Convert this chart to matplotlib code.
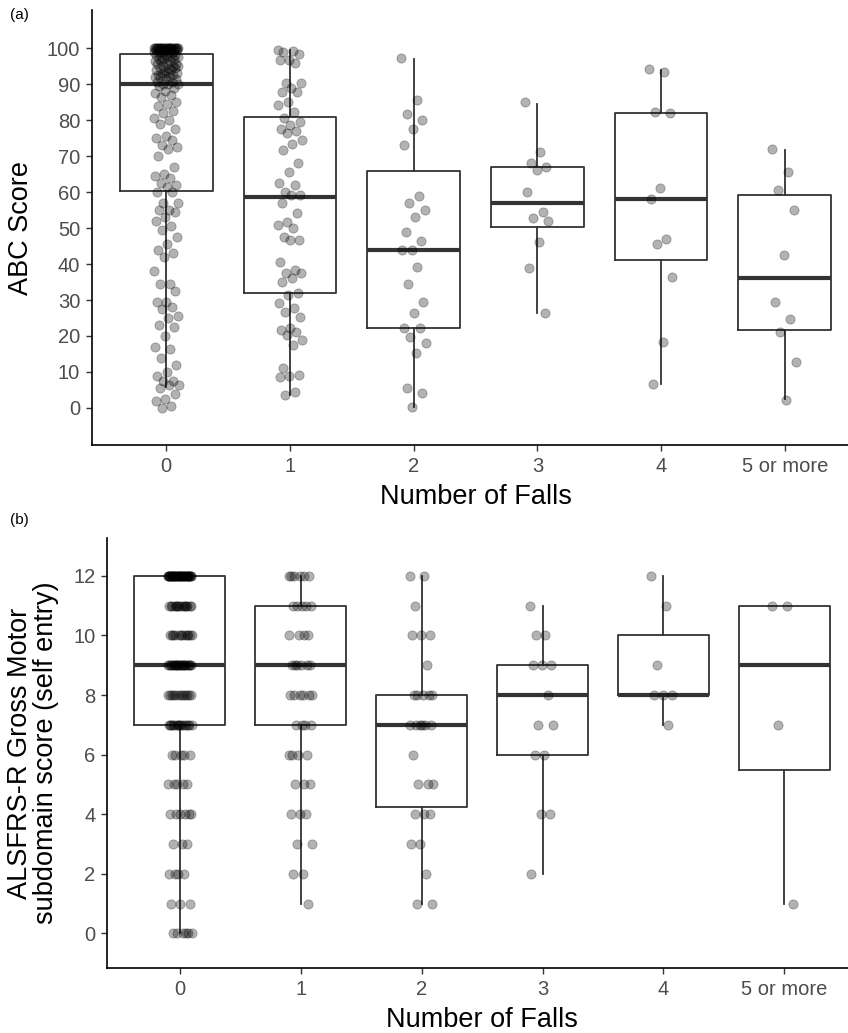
import numpy as np
import matplotlib
matplotlib.use("Agg")
import matplotlib.pyplot as plt

plt.rcParams['font.family'] = ['Liberation Sans', 'DejaVu Sans']

groups = ["0", "1", "2", "3", "4", "5 or more"]

# (a) ABC score
abc_0 = [100, 100, 100, 100, 100, 100, 100, 100, 100, 100, 100, 100, 100, 100,
         100, 100, 100, 100, 100, 100, 100, 100, 100, 100,
         99.4, 99.4, 99.4, 99.4, 99.4, 99.4, 99.4, 98.8, 98.8, 98.8, 98.8, 98.8, 98.8,
         98.1, 98.1, 98.1, 97.5, 97.5, 97.5, 97.5, 96.9, 96.9, 96.9, 96.3, 96.3, 96.3,
         95.6, 95.6, 95.6, 95.0, 95.0, 95.0, 94.4, 94.4, 94.4, 93.8, 93.8, 93.8,
         93.1, 93.1, 93.1, 92.5, 92.5, 92.5, 91.9, 91.9, 91.9, 91.3, 91.3, 90.6, 90.6,
         90.0, 90.0, 90.0,
         89.4, 88.8, 88.1, 87.5, 86.9, 86.3, 85.0, 84.4, 83.8, 82.5, 81.9, 80.6,
         80.0, 78.8, 77.5, 75.6, 75.0, 74.4, 73.1, 72.5, 71.9, 70.0, 66.9, 65.0,
         64.4, 63.8, 62.5, 61.9, 61.3, 60.0, 60.0, 56.9, 56.9, 55.0, 55.0, 54.4,
         53.1, 51.9, 50.6, 49.4, 47.5, 45.6, 43.8, 43.1, 41.9, 38.1, 34.4, 34.4,
         32.5, 29.4, 29.4, 28.1, 27.5, 25.6, 25.0, 23.1, 22.5, 20.0, 16.9, 16.3,
         13.8, 11.9, 10.0, 8.8, 7.5, 7.5, 6.3, 6.3, 5.6, 3.8, 2.5, 1.9, 0.6, 0.0]
abc_1 = [99.5, 99.2, 98.8, 98.5, 96.7, 96.7, 95.8, 90.2, 90.2, 88.8, 87.9, 87.9,
         85.1, 84.2, 82.3, 80.5, 79.5, 78.6, 77.6, 76.9, 76.3, 74.4, 73.5, 71.7,
         68.0, 65.7, 62.4, 61.9, 60.1, 59.2, 59.2, 56.9, 54.1, 51.8, 50.9, 49.9,
         47.6, 46.7, 46.7, 40.6, 38.3, 37.4, 37.4, 36.0, 35.1, 31.9, 31.4, 29.1,
         27.7, 26.8, 25.3, 22.1, 21.6, 21.2, 20.3, 18.9, 17.5, 11.0, 9.2, 8.9,
         8.7, 4.5, 3.6]
abc_2 = [97.2, 85.5, 81.8, 80.0, 77.4, 73.1, 58.9, 56.9, 55.0, 53.2, 49.0, 46.5,
         43.9, 43.9, 39.3, 34.4, 29.5, 26.5, 22.3, 22.3, 19.8, 18.0, 15.4, 5.5,
         4.1, 0.4]
abc_3 = [84.9, 71.2, 68.2, 67.0, 66.1, 59.9, 54.5, 52.7, 52.0, 46.2, 38.8, 26.5]
abc_4 = [94.1, 93.4, 82.3, 81.9, 61.2, 58.1, 46.9, 45.7, 36.3, 18.3, 6.6]
abc_5 = [71.9, 65.5, 60.6, 55.0, 42.5, 29.5, 24.7, 21.0, 12.9, 2.3]

# box statistics as drawn in (a)
abc_q1 = [60.3, 32.0, 22.1, 50.4, 41.1, 21.7]
abc_med = [90.0, 58.5, 43.9, 57.1, 58.1, 36.0]
abc_q3 = [98.5, 81.0, 65.9, 67.0, 82.0, 59.3]
abc_lo = [5.9, 3.6, 0.4, 26.5, 6.6, 2.5]
abc_hi = [100.0, 99.4, 97.1, 84.6, 93.9, 71.7]

# (b) ALSFRS-R gross motor, integer scores and how many dots sit on each
als_levels = [12, 11, 10, 9, 8, 7, 6, 5, 4, 3, 2, 1, 0]
als_counts = [
    [40, 15, 12, 22, 12, 15, 5, 5, 6, 3, 4, 3, 6],
    [6, 5, 4, 6, 6, 4, 4, 3, 3, 2, 2, 1, 0],
    [2, 1, 3, 1, 5, 6, 1, 3, 3, 2, 1, 2, 0],
    [0, 1, 2, 3, 1, 2, 2, 0, 2, 0, 1, 0, 0],
    [1, 1, 0, 1, 3, 1, 0, 0, 0, 0, 0, 0, 0],
    [0, 2, 0, 0, 0, 1, 0, 0, 0, 0, 0, 1, 0],
]
als_q1 = [7, 7, 4.25, 6, 8, 5.5]
als_med = [9, 9, 7, 8, 8, 9]
als_q3 = [12, 11, 8, 9, 10, 11]
als_lo = [0, 1, 1, 2, 7, 1]
als_hi = [12, 12, 12, 11, 12, 11]

abc_groups = [abc_0, abc_1, abc_2, abc_3, abc_4, abc_5]
als_groups = [np.repeat(als_levels, c) for c in als_counts]

box_col = "#333333"
text_col = "#4D4D4D"


def spread(n):
    # even horizontal spread of the dots (jitter), golden-ratio sequence
    k = np.arange(n)
    return ((k * 0.6180339887) % 1.0 - 0.5) * 0.2


def panel(ax, vals, q1, med, q3, lo, hi):
    stats = []
    for i in range(len(groups)):
        stats.append({"med": med[i], "q1": q1[i], "q3": q3[i],
                      "whislo": lo[i], "whishi": hi[i], "fliers": []})
    ax.bxp(stats, positions=range(len(groups)), widths=0.75, showcaps=False,
           showfliers=False,
           boxprops=dict(color=box_col, linewidth=1.3),
           whiskerprops=dict(color=box_col, linewidth=1.3),
           medianprops=dict(color=box_col, linewidth=3.0, solid_capstyle="butt"))
    for i, v in enumerate(vals):
        v = np.asarray(v, dtype=float)
        ax.scatter(i + spread(len(v)), v, s=44, color="black", alpha=0.3,
                   edgecolors="black", linewidths=0.6, zorder=3)
    for side in ("top", "right"):
        ax.spines[side].set_visible(False)
    for side in ("left", "bottom"):
        ax.spines[side].set_linewidth(1.2)
        ax.spines[side].set_color("black")
    ax.set_xticks(range(len(groups)))
    ax.set_xticklabels(groups)
    ax.tick_params(axis="both", colors="#333333", labelcolor=text_col,
                   labelsize=14.5, length=4.5, width=1.0, pad=4)
    ax.set_xlabel("Number of Falls", fontsize=19.5, color="black", labelpad=6)


fig = plt.figure(figsize=(8.48, 10.33), dpi=100)

ax1 = fig.add_axes([0.1085, 0.5692, 0.9045, 0.4211])
panel(ax1, abc_groups, abc_q1, abc_med, abc_q3, abc_lo, abc_hi)
ax1.set_xlim(-0.6, 5.6)
ax1.set_ylim(-10.3, 110.6)
ax1.set_yticks(range(0, 101, 10))
ax1.set_ylabel("ABC Score", fontsize=19.5, color="black", labelpad=9)

ax2 = fig.add_axes([0.1265, 0.0629, 0.884, 0.4163])
panel(ax2, als_groups, als_q1, als_med, als_q3, als_lo, als_hi)
ax2.set_xlim(-0.6, 5.6)
ax2.set_ylim(-1.16, 13.27)
ax2.set_yticks(range(0, 13, 2))
ax2.set_ylabel("ALSFRS-R Gross Motor\nsubdomain score (self entry)", fontsize=19.5,
               color="black", labelpad=10, linespacing=1.0)

fig.text(0.012, 0.985, "(a)", fontsize=11, va="center")
fig.text(0.012, 0.497, "(b)", fontsize=11, va="center")

fig.savefig("out.png", dpi=100)
